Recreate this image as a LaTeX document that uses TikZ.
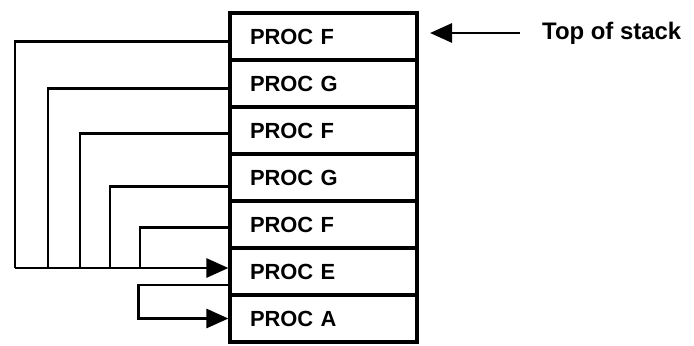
\documentclass[tikz,border=0pt]{standalone}
\usepackage{fontspec}
\setmainfont{Liberation Sans}
\usetikzlibrary{arrows.meta}

\tikzset{
  cell/.style = {draw, rectangle, line width = 3.2bp, minimum width = 187bp, minimum height = 47bp,
                 inner xsep = 20bp, text width = 147bp, align = left,
                 font = \fontsize{22}{26}\selectfont\bfseries},
  wire/.style = {line width = 2.8bp},
  head/.style = {-{Triangle[length = 22bp, width = 19bp]}}
}

\begin{document}
\begin{tikzpicture}[x = 1bp, y = -1bp]
        \useasboundingbox (0,0) rectangle (694,345);
        \foreach \i/\name in {1/PROC F, 2/PROC G, 3/PROC F, 4/PROC G, 5/PROC F, 6/PROC E, 7/PROC A}
            \node[cell] (r\i) at (323.5, {36.5 + 47*(\i-1)}) {\name};
        \coordinate (ein) at ([yshift = 3.5bp]r6.west);
        \coordinate (eout) at ([yshift = -13.5bp]r6.west);
        \foreach \i/\x/\dy in {1/15/-5, 2/48/-5, 3/80/-3, 4/110/-9, 5/140/-3}
            \draw[wire] ([yshift = \dy bp]r\i.west) -| (\x,0 |- ein);
        \draw[wire, head] (15,0 |- ein) -- (ein);
        \draw[wire, head] (eout) -- ++(-90,0) |- (r7.west);
        \node[anchor = west, inner sep = 0pt, font = \fontsize{24}{28}\selectfont\bfseries] (top) at (542,33) {Top of stack};
        \coordinate (topmark) at (430,33);
        \draw[wire, head] ([xshift = -22bp]top.west) -- (topmark);
    \end{tikzpicture}
\end{document}
